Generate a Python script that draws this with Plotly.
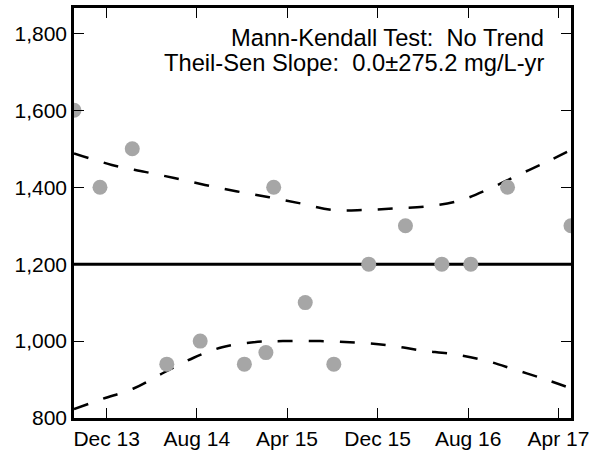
import plotly.graph_objects as go

# Sample data
sample_dates = ["2013-09-04", "2013-11-13", "2014-02-08", "2014-05-12", "2014-08-10",
                "2014-12-07", "2015-02-03", "2015-02-24", "2015-05-20", "2015-08-05",
                "2015-11-07", "2016-02-14", "2016-05-22", "2016-08-08", "2016-11-15",
                "2017-05-05"]
sample_values = [1600, 1400, 1500, 940, 1000, 940, 970, 1400, 1100, 940,
                 1200, 1300, 1200, 1200, 1400, 1300]

median_value = 1200

upper_dates = ["2013-09-04", "2013-12-15", "2014-03-14", "2014-06-01", "2014-08-23",
               "2014-11-18", "2015-02-12", "2015-05-07", "2015-08-01", "2015-10-27",
               "2016-01-20", "2016-04-13", "2016-07-08", "2016-09-27", "2016-12-12",
               "2017-03-01", "2017-05-05"]
upper_values = [1488, 1458, 1440, 1424, 1406, 1389, 1374, 1358, 1341, 1341,
                1345, 1350, 1365, 1396, 1431, 1466, 1497]

lower_dates = ["2013-09-04", "2013-11-21", "2014-02-10", "2014-05-02", "2014-07-22",
               "2014-10-08", "2014-12-31", "2015-03-21", "2015-06-29", "2015-10-07",
               "2016-01-01", "2016-03-26", "2016-06-20", "2016-09-14", "2016-12-04",
               "2017-02-26", "2017-05-05"]
lower_values = [823, 850, 876, 917, 956, 984, 997, 1000, 1000, 996,
                989, 976, 966, 950, 926, 900, 877]

x_tick_vals = ["2013-12-01", "2014-08-01", "2015-04-01", "2015-12-01", "2016-08-01", "2017-04-01"]
x_tick_text = ["Dec 13", "Aug 14", "Apr 15", "Dec 15", "Aug 16", "Apr 17"]
y_tick_vals = [800, 1000, 1200, 1400, 1600, 1800]

annotation_lines = ["Mann-Kendall Test:\u00a0 No Trend",
                    "Theil-Sen Slope:\u00a0 0.0±275.2 mg/L-yr"]

x_start, x_end = sample_dates[0], sample_dates[-1]

fig = go.Figure()

dash_style = dict(color="black", width=2.5, dash="15px,16px")
fig.add_trace(go.Scatter(x=upper_dates, y=upper_values, mode="lines", line=dash_style,
                         line_shape="spline", showlegend=False, hoverinfo="skip"))
fig.add_trace(go.Scatter(x=lower_dates, y=lower_values, mode="lines", line=dash_style,
                         line_shape="spline", showlegend=False, hoverinfo="skip"))
fig.add_trace(go.Scatter(x=[x_start, x_end], y=[median_value, median_value], mode="lines",
                         line=dict(color="black", width=3), showlegend=False))
fig.add_trace(go.Scatter(x=sample_dates, y=sample_values, mode="markers",
                         marker=dict(color="#a6a6a6", size=15, line=dict(width=0)),
                         showlegend=False, cliponaxis=True))

for i, (line_text, ypos) in enumerate(zip(annotation_lines, [0.928, 0.866])):
    fig.add_annotation(x=0.9487, y=ypos, xref="paper", yref="paper",
                       xanchor="right", yanchor="middle",
                       text=line_text, showarrow=False, align="right",
                       font=dict(family="Liberation Sans, Arial", size=23.7, color="black"))

axis_common = dict(showline=True, linecolor="black", linewidth=2.5, mirror="allticks",
                   ticks="inside", ticklen=10, tickwidth=1.2, tickcolor="black",
                   showgrid=False, zeroline=False,
                   tickfont=dict(family="Liberation Sans, Arial", size=21, color="black"))

fig.update_xaxes(type="date", range=[x_start, x_end], tickvals=x_tick_vals, ticktext=x_tick_text,
                 automargin=False, **axis_common)
fig.update_yaxes(range=[800, 1866], tickvals=y_tick_vals, tickformat=",d",
                 automargin=False, **axis_common)

fig.update_layout(width=594, height=452, margin=dict(l=74, r=23, t=8, b=34),
                  plot_bgcolor="white", paper_bgcolor="white")

fig.write_html("out.html", config={"displayModeBar": False},
               post_script="document.body.style.margin='0';document.body.style.overflow='hidden';")
